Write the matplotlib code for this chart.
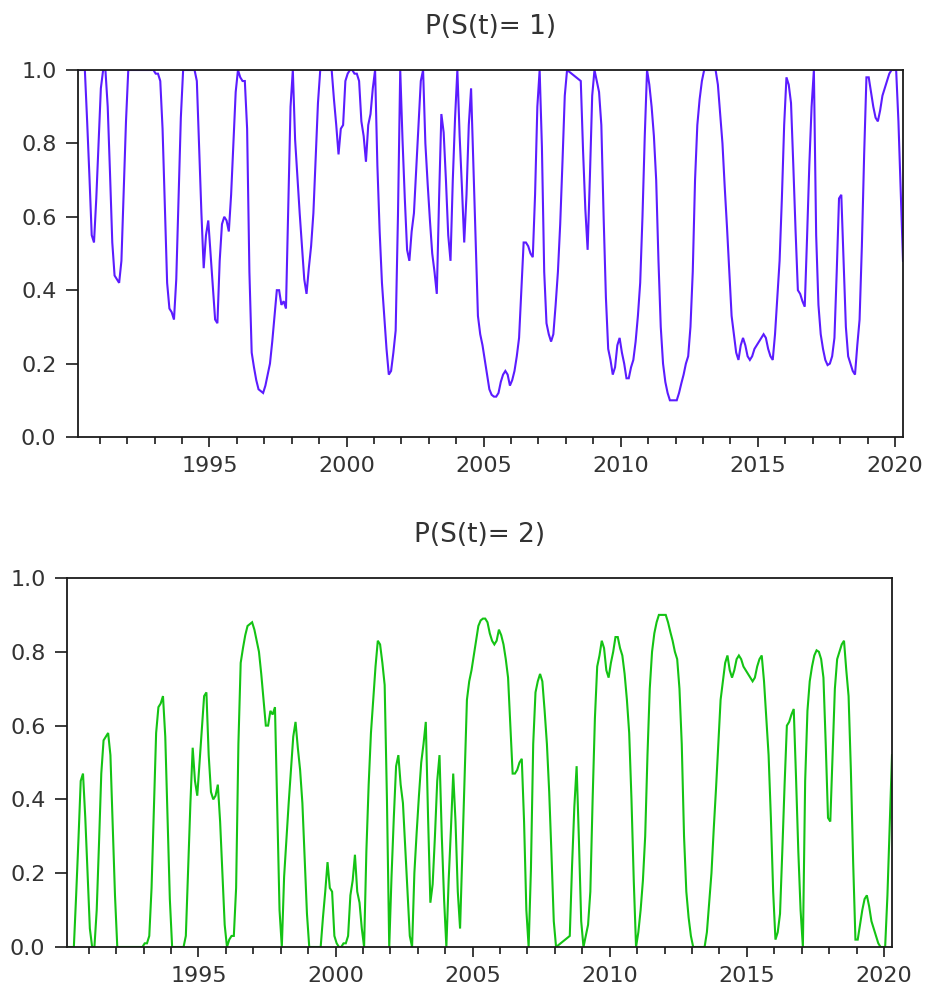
import matplotlib
matplotlib.use('Agg')
import matplotlib.pyplot as plt
import numpy as np
from matplotlib.ticker import FixedLocator

# ---------------- data ----------------
start_year = 1990
start_month = 3          # first observation: 1990M03 (monthly, to 2020M04)

titles = ['P(S(t)= 1)', 'P(S(t)= 2)']

# smoothed probability of regime 1
p1 = [
    1.00, 1.00, 1.00, 1.00, 0.86, 0.71, 0.55, 0.53, 0.65, 0.80,                 # 1990 (Mar-Dec)
    0.95, 1.00, 1.00, 0.90, 0.72, 0.53, 0.44, 0.43, 0.42, 0.48, 0.67, 0.86,     # 1991
    1.00, 1.00, 1.00, 1.00, 1.00, 1.00, 1.00, 1.00, 1.00, 1.00, 1.00, 1.00,     # 1992
    0.99, 0.99, 0.97, 0.84, 0.63, 0.42, 0.35, 0.34, 0.32, 0.43, 0.65, 0.87,     # 1993
    1.00, 1.00, 1.00, 1.00, 1.00, 1.00, 0.97, 0.79, 0.61, 0.46, 0.55, 0.59,     # 1994
    0.50, 0.41, 0.32, 0.31, 0.48, 0.58, 0.60, 0.59, 0.56, 0.66, 0.80, 0.94,     # 1995
    1.00, 0.98, 0.97, 0.97, 0.84, 0.45, 0.23, 0.19, 0.155, 0.13, 0.125, 0.12,   # 1996
    0.14, 0.17, 0.20, 0.26, 0.33, 0.40, 0.40, 0.36, 0.37, 0.35, 0.62, 0.90,     # 1997
    1.00, 0.81, 0.71, 0.61, 0.52, 0.43, 0.39, 0.46, 0.52, 0.61, 0.76, 0.91,     # 1998
    1.00, 1.00, 1.00, 1.00, 1.00, 1.00, 0.92, 0.85, 0.77, 0.84, 0.85, 0.97,     # 1999
    0.99, 1.00, 1.00, 0.99, 0.99, 0.97, 0.86, 0.82, 0.75, 0.85, 0.88, 0.95,     # 2000
    1.00, 0.74, 0.56, 0.42, 0.33, 0.24, 0.17, 0.18, 0.23, 0.29, 0.60, 1.00,     # 2001
    0.81, 0.65, 0.51, 0.48, 0.56, 0.61, 0.73, 0.85, 0.97, 1.00, 0.80, 0.69,     # 2002
    0.59, 0.50, 0.45, 0.39, 0.65, 0.88, 0.83, 0.70, 0.55, 0.48, 0.70, 0.87,     # 2003
    1.00, 0.82, 0.68, 0.53, 0.66, 0.85, 0.95, 0.74, 0.54, 0.33, 0.28, 0.25,     # 2004
    0.21, 0.17, 0.13, 0.115, 0.11, 0.11, 0.12, 0.15, 0.17, 0.18, 0.17, 0.14,    # 2005
    0.155, 0.18, 0.22, 0.27, 0.40, 0.53, 0.53, 0.52, 0.50, 0.49, 0.66, 0.90,    # 2006
    1.00, 0.79, 0.45, 0.31, 0.28, 0.26, 0.28, 0.36, 0.45, 0.58, 0.75, 0.93,     # 2007
    1.00, 0.995, 0.99, 0.985, 0.98, 0.975, 0.97, 0.78, 0.62, 0.51, 0.71, 0.93,  # 2008
    1.00, 0.97, 0.94, 0.85, 0.60, 0.38, 0.24, 0.21, 0.17, 0.19, 0.25, 0.27,     # 2009
    0.23, 0.20, 0.16, 0.16, 0.19, 0.21, 0.26, 0.33, 0.42, 0.60, 0.82, 1.00,     # 2010
    0.96, 0.90, 0.82, 0.70, 0.48, 0.30, 0.20, 0.15, 0.12, 0.10, 0.10, 0.10,     # 2011
    0.10, 0.12, 0.146, 0.17, 0.20, 0.22, 0.30, 0.45, 0.70, 0.85, 0.92, 0.97,    # 2012
    1.00, 1.00, 1.00, 1.00, 1.00, 1.00, 0.96, 0.88, 0.80, 0.68, 0.57, 0.45,     # 2013
    0.33, 0.28, 0.23, 0.21, 0.25, 0.27, 0.25, 0.22, 0.21, 0.22, 0.24, 0.25,     # 2014
    0.26, 0.27, 0.28, 0.27, 0.24, 0.22, 0.21, 0.28, 0.38, 0.48, 0.65, 0.85,     # 2015
    0.98, 0.96, 0.91, 0.74, 0.56, 0.40, 0.39, 0.37, 0.355, 0.54, 0.74, 0.90,    # 2016
    1.00, 0.55, 0.36, 0.28, 0.24, 0.21, 0.196, 0.20, 0.22, 0.27, 0.45, 0.65,    # 2017
    0.66, 0.48, 0.30, 0.22, 0.20, 0.18, 0.17, 0.25, 0.32, 0.52, 0.77, 0.98,     # 2018
    0.98, 0.94, 0.90, 0.87, 0.86, 0.89, 0.93, 0.95, 0.97, 0.99, 1.00, 1.00,     # 2019
    1.00, 0.86, 0.67, 0.48,                                                     # 2020 (Jan-Apr)
]

# smoothed probability of regime 2
p2 = [
    0.00, 0.00, 0.00, 0.00, 0.14, 0.29, 0.45, 0.47, 0.35, 0.20,                 # 1990
    0.05, 0.00, 0.00, 0.10, 0.28, 0.47, 0.56, 0.57, 0.58, 0.52, 0.33, 0.14,     # 1991
    0.00, 0.00, 0.00, 0.00, 0.00, 0.00, 0.00, 0.00, 0.00, 0.00, 0.00, 0.00,     # 1992
    0.01, 0.01, 0.03, 0.16, 0.37, 0.58, 0.65, 0.66, 0.68, 0.57, 0.35, 0.13,     # 1993
    0.00, 0.00, 0.00, 0.00, 0.00, 0.00, 0.03, 0.21, 0.39, 0.54, 0.45, 0.41,     # 1994
    0.50, 0.59, 0.68, 0.69, 0.52, 0.42, 0.40, 0.41, 0.44, 0.34, 0.20, 0.06,     # 1995
    0.00, 0.02, 0.03, 0.03, 0.16, 0.55, 0.77, 0.81, 0.845, 0.87, 0.875, 0.88,   # 1996
    0.86, 0.83, 0.80, 0.74, 0.67, 0.60, 0.60, 0.64, 0.63, 0.65, 0.38, 0.10,     # 1997
    0.00, 0.19, 0.29, 0.39, 0.48, 0.57, 0.61, 0.54, 0.48, 0.39, 0.24, 0.09,     # 1998
    0.00, 0.00, 0.00, 0.00, 0.00, 0.00, 0.08, 0.15, 0.23, 0.16, 0.15, 0.03,     # 1999
    0.01, 0.00, 0.00, 0.01, 0.01, 0.03, 0.14, 0.18, 0.25, 0.15, 0.12, 0.05,     # 2000
    0.00, 0.26, 0.44, 0.58, 0.67, 0.76, 0.83, 0.82, 0.77, 0.71, 0.40, 0.00,     # 2001
    0.19, 0.35, 0.49, 0.52, 0.44, 0.39, 0.27, 0.15, 0.03, 0.00, 0.20, 0.31,     # 2002
    0.41, 0.50, 0.55, 0.61, 0.35, 0.12, 0.17, 0.30, 0.45, 0.52, 0.30, 0.13,     # 2003
    0.00, 0.18, 0.32, 0.47, 0.34, 0.15, 0.05, 0.26, 0.46, 0.67, 0.72, 0.75,     # 2004
    0.79, 0.83, 0.87, 0.885, 0.89, 0.89, 0.88, 0.85, 0.83, 0.82, 0.83, 0.86,    # 2005
    0.845, 0.82, 0.78, 0.73, 0.60, 0.47, 0.47, 0.48, 0.50, 0.51, 0.34, 0.10,    # 2006
    0.00, 0.21, 0.55, 0.69, 0.72, 0.74, 0.72, 0.64, 0.55, 0.42, 0.25, 0.07,     # 2007
    0.00, 0.005, 0.01, 0.015, 0.02, 0.025, 0.03, 0.22, 0.38, 0.49, 0.29, 0.07,  # 2008
    0.00, 0.03, 0.06, 0.15, 0.40, 0.62, 0.76, 0.79, 0.83, 0.81, 0.75, 0.73,     # 2009
    0.77, 0.80, 0.84, 0.84, 0.81, 0.79, 0.74, 0.67, 0.58, 0.40, 0.18, 0.00,     # 2010
    0.04, 0.10, 0.18, 0.30, 0.52, 0.70, 0.80, 0.85, 0.88, 0.90, 0.90, 0.90,     # 2011
    0.90, 0.88, 0.854, 0.83, 0.80, 0.78, 0.70, 0.55, 0.30, 0.15, 0.08, 0.03,    # 2012
    0.00, 0.00, 0.00, 0.00, 0.00, 0.00, 0.04, 0.12, 0.20, 0.32, 0.43, 0.55,     # 2013
    0.67, 0.72, 0.77, 0.79, 0.75, 0.73, 0.75, 0.78, 0.79, 0.78, 0.76, 0.75,     # 2014
    0.74, 0.73, 0.72, 0.73, 0.76, 0.78, 0.79, 0.72, 0.62, 0.52, 0.35, 0.15,     # 2015
    0.02, 0.04, 0.09, 0.26, 0.44, 0.60, 0.61, 0.63, 0.645, 0.46, 0.26, 0.10,    # 2016
    0.00, 0.45, 0.64, 0.72, 0.76, 0.79, 0.804, 0.80, 0.78, 0.73, 0.55, 0.35,    # 2017
    0.34, 0.52, 0.70, 0.78, 0.80, 0.82, 0.83, 0.75, 0.68, 0.48, 0.23, 0.02,     # 2018
    0.02, 0.06, 0.10, 0.13, 0.14, 0.11, 0.07, 0.05, 0.03, 0.01, 0.00, 0.00,     # 2019
    0.00, 0.14, 0.33, 0.52,                                                     # 2020
]

year_labels = [1995, 2000, 2005, 2010, 2015, 2020]
minor_years = [1991, 1992, 1993, 1994, 1996, 1997, 1998, 1999, 2001, 2002, 2003,
               2004, 2006, 2007, 2008, 2009, 2011, 2012, 2013, 2014, 2016, 2017,
               2018, 2019]
y_ticks = [0.0, 0.2, 0.4, 0.6, 0.8, 1.0]

# ---------------- styling ----------------
plt.rcParams['font.family'] = ['DejaVu Sans']
TEXT = '#333333'
SPINE = '#1a1a1a'
colors = ['#5b1cff', '#14c314']

x = np.array([start_year + (start_month - 1 + i + 0.5) / 12.0 for i in range(len(p1))])

fig = plt.figure(figsize=(9.32, 9.86), dpi=100)
W, H = 932.0, 986.0
ax1 = fig.add_axes([78 / W, 1 - 437 / H, (903 - 78) / W, (437 - 70) / H])
ax2 = fig.add_axes([67 / W, 1 - 947 / H, (892 - 67) / W, (947 - 578) / H])

for ax, series, col, title in [(ax1, p1, colors[0], titles[0]),
                               (ax2, p2, colors[1], titles[1])]:
    ax.plot(x, series, color=col, linewidth=1.5, solid_joinstyle='miter')
    ax.set_xlim(x[0], x[-1])
    ax.set_ylim(0.0, 1.0)
    ax.set_yticks(y_ticks)
    ax.set_yticklabels([f'{v:.1f}' for v in y_ticks])
    ax.xaxis.set_major_locator(FixedLocator(year_labels))
    ax.xaxis.set_minor_locator(FixedLocator(minor_years))
    ax.set_xticklabels([str(v) for v in year_labels])
    ax.tick_params(axis='y', which='major', direction='out', length=8.5, width=1.2,
                   pad=7, labelsize=16, labelcolor=TEXT, color=SPINE)
    ax.tick_params(axis='x', which='major', direction='out', length=7, width=1.2,
                   pad=7, labelsize=16, labelcolor=TEXT, color=SPINE)
    ax.tick_params(axis='x', which='minor', direction='out', length=5, width=1.2,
                   color=SPINE)
    for s in ax.spines.values():
        s.set_linewidth(1.3)
        s.set_color(SPINE)
    ax.set_title(title, fontsize=19, color=TEXT, pad=26)

fig.savefig('out.png', dpi=100)
